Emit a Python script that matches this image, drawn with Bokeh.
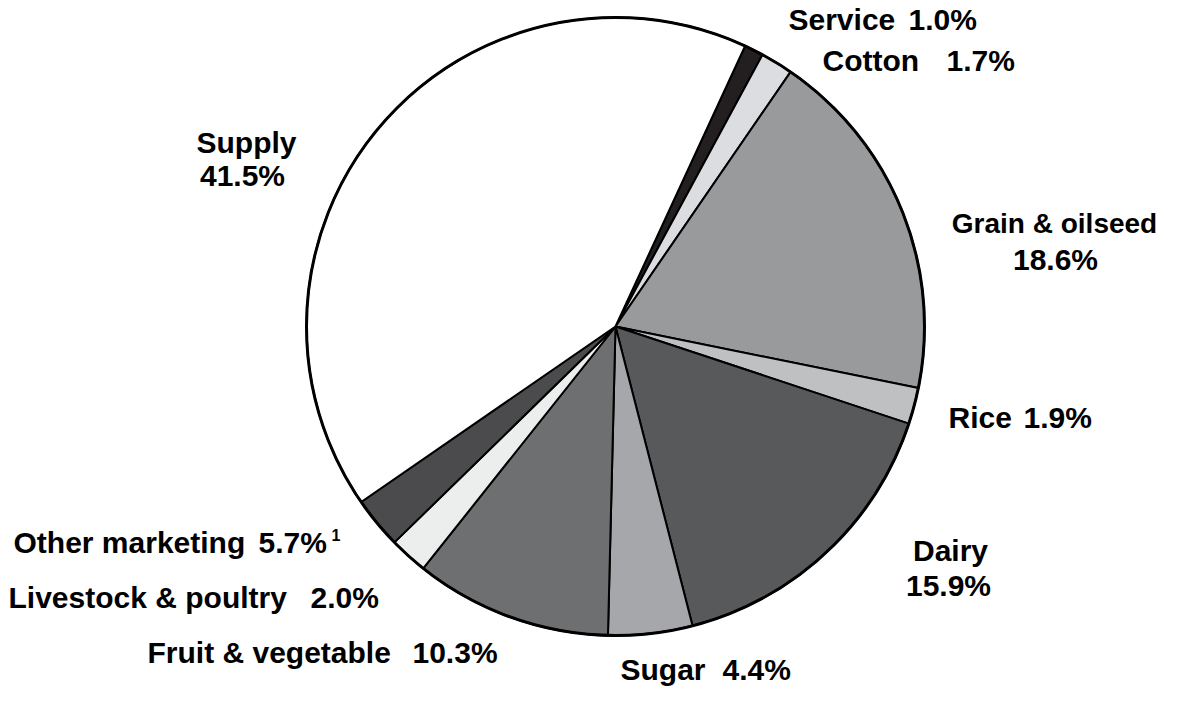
import math
from bokeh.plotting import figure
from bokeh.models import Range1d, ColumnDataSource
from bokeh.core.properties import value
from bokeh.embed import file_html
from bokeh.resources import INLINE

# Slices in clockwise order starting at the top (drawn shares, %)
categories = ["Service", "Cotton", "Grain & oilseed", "Rice", "Dairy", "Sugar",
              "Fruit & vegetable", "Livestock & poultry", "Other marketing", "Supply"]
shares = [1.0, 1.7, 18.6, 1.9, 15.9, 4.4, 10.3, 2.0, 2.7, 41.5]
share_labels = ["1.0%", "1.7%", "18.6%", "1.9%", "15.9%", "4.4%",
                "10.3%", "2.0%", "5.7%", "41.5%"]
colors = ["#231f20", "#dcdde0", "#999a9c", "#bfc0c2", "#58595b", "#a6a7aa",
          "#6e6f71", "#eceeed", "#4b4b4d", "#ffffff"]

W, H = 1169, 688
p = figure(width=W, height=H, output_backend="svg", toolbar_location=None,
           x_range=Range1d(0, W), y_range=Range1d(-H, 0), min_border=0)
p.axis.visible = False
p.grid.visible = False
p.outline_line_color = None
p.background_fill_color = "white"
p.border_fill_color = "white"

cx, cy, r = 615, -326, 309
start_deg = 65.2

starts, ends = [], []
cum = 0.0
for s in shares:
    a0 = start_deg - cum * 3.6
    a1 = a0 - s * 3.6
    starts.append(math.radians(a1))
    ends.append(math.radians(a0))
    cum += s

src = ColumnDataSource(dict(start=starts, end=ends, color=colors, cat=categories))
p.wedge(x=cx, y=cy, radius=r, start_angle="start", end_angle="end",
        direction="anticlock", fill_color="color", line_color="black",
        line_width=2, source=src)
p.scatter(x=[cx], y=[cy], size=2 * r, marker="circle", fill_color=None,
          line_color="black", line_width=3)

font = value("Liberation Sans")
fs = "30px"

def lbl(x, y, t, align="left", size=fs):
    p.text(x=[x], y=[-y], text=[t], text_font=font, text_font_size=size,
           text_font_style="bold", text_align=align, text_baseline="middle",
           text_color="black")

C = dict(zip(categories, share_labels))
# name pieces and value pieces placed separately (y = vertical centre)
lbl(788, 19, "Service")
lbl(908, 19, C["Service"])
lbl(822, 60, "Cotton")
lbl(946, 60, C["Cotton"])
lbl(246, 142, "Supply", "center")
lbl(242, 175, C["Supply"], "center")
lbl(1054, 223, "Grain & oilseed", "center", "28px")
lbl(1055, 259, C["Grain & oilseed"], "center")
lbl(948, 417, "Rice")
lbl(1023, 417, C["Rice"])
lbl(950, 550, "Dairy", "center")
lbl(948, 585, C["Dairy"], "center")
lbl(620, 669, "Sugar")
lbl(722, 669, C["Sugar"])
lbl(147, 652, "Fruit & vegetable")
lbl(412, 652, C["Fruit & vegetable"])
lbl(8, 597, "Livestock & poultry")
lbl(310, 597, C["Livestock & poultry"])
lbl(13, 542, "Other marketing")
lbl(258, 542, C["Other marketing"])
lbl(331, 534, "1", "left", "16px")

open("out.html", "w").write(file_html(p, INLINE))
